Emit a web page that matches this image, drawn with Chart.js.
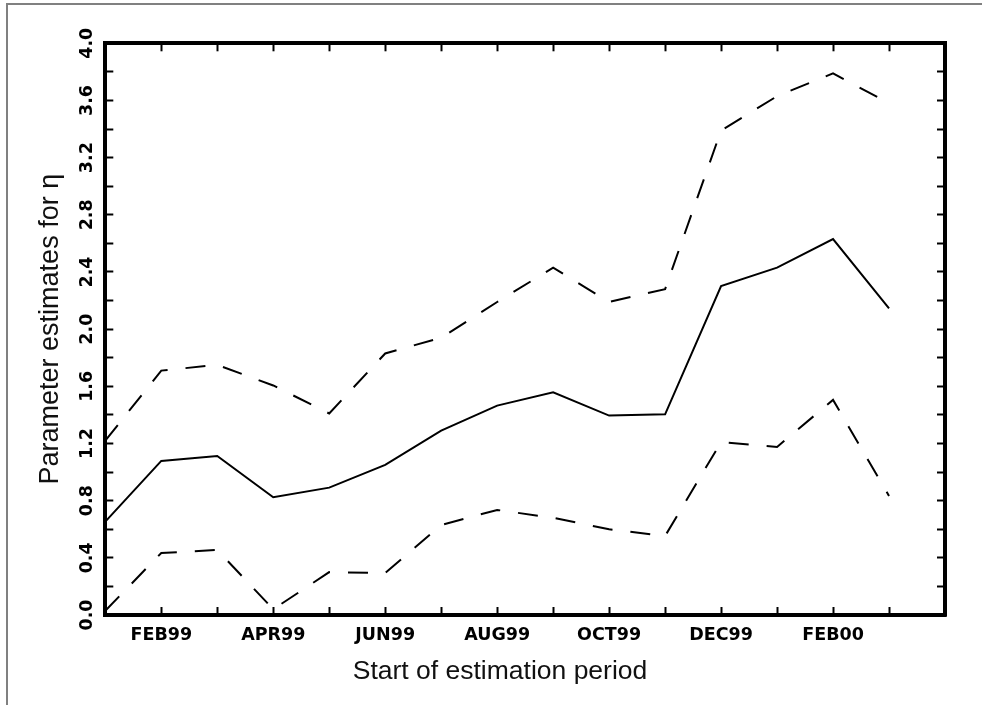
<!DOCTYPE html>
<html>
<head>
<meta charset="utf-8">
<script src="https://cdn.jsdelivr.net/npm/chart.js@4/dist/chart.umd.min.js"></script>
<style>
  html, body { margin: 0; padding: 0; background: #fff; overflow: hidden; }
  .frame { position: absolute; left: 6px; top: 3px; width: 990px; height: 720px;
           border-left: 2px solid #808080; border-top: 2px solid #808080; }
  .wrap { position: absolute; left: 0; top: 0; width: 982px; height: 705px; }
</style>
</head>
<body>
<div class="frame"></div>
<div class="wrap"><canvas id="eta-chart"></canvas></div>
<script>
/* ============================================================
   PARAMETER ESTIMATES FOR ETA — by start of estimation period
   ============================================================ */
const months = ['JAN99','FEB99','MAR99','APR99','MAY99','JUN99','JUL99','AUG99',
                'SEP99','OCT99','NOV99','DEC99','JAN00','FEB00','MAR00','APR00'];
const shownMonths = ['FEB99','APR99','JUN99','AUG99','OCT99','DEC99','FEB00'];
const yTickLabels = ['0.0','0.4','0.8','1.2','1.6','2.0','2.4','2.8','3.2','3.6','4.0'];

const estimate  = [0.653, 1.078, 1.113, 0.824, 0.891, 1.05, 1.29, 1.465, 1.558, 1.395, 1.404, 2.302, 2.43, 2.63, 2.146];
const upperBand = [1.22, 1.71, 1.75, 1.606, 1.41, 1.83, 1.94, 2.19, 2.43, 2.19, 2.28, 3.39, 3.63, 3.79, 3.58];
const lowerBand = [0.03, 0.434, 0.455, 0.04, 0.30, 0.294, 0.63, 0.735, 0.68, 0.60, 0.553, 1.21, 1.176, 1.505, 0.833];

const INK = '#000';
const tickFont = { family: 'DejaVu Sans', size: 17.5, weight: 'bold' };

// inward tick marks + thick frame, no grid inside
const frameGrid = { drawOnChartArea: false, color: INK, tickLength: -8, tickWidth: 2 };
const frameBorder = { color: INK, width: 4 };

const lineStyle = (data, dash) => ({
  data, borderColor: INK, borderWidth: 2, borderDash: dash,
  pointRadius: 0, tension: 0, fill: false
});

new Chart(document.getElementById('eta-chart'), {
  type: 'line',
  data: {
    labels: months,
    datasets: [
      lineStyle(estimate, []),
      lineStyle(upperBand, [20, 18]),
      lineStyle(lowerBand, [20, 18]),
    ]
  },
  options: {
    responsive: true,
    maintainAspectRatio: false,
    animation: false,
    layout: { padding: { left: 18, right: 0, top: 0, bottom: 0 } },
    plugins: {
      legend: { display: false },
      tooltip: { enabled: false },
      title: {
        display: true, position: 'bottom',
        text: 'Start of estimation period',
        color: '#111', font: { family: 'Liberation Sans', size: 26.5, weight: 'normal' },
        padding: { top: 0, bottom: 17 }
      }
    },
    scales: {
      x: {
        type: 'category', position: 'bottom', offset: false,
        grid: frameGrid, border: frameBorder,
        ticks: {
          color: INK, font: tickFont, padding: 17.5, autoSkip: false, maxRotation: 0,
          callback: function (v) {
            const m = this.getLabelForValue(v);
            return shownMonths.includes(m) ? m : '';
          }
        },
        afterFit: s => { s.height = 41.2; }
      },
      x2: {
        type: 'category', labels: months, position: 'top', offset: false,
        grid: frameGrid, border: frameBorder,
        ticks: { display: false, autoSkip: false },
        afterFit: s => { s.height = 43.3; }
      },
      y: {
        position: 'left', min: 0, max: 4,
        grid: frameGrid, border: frameBorder,
        ticks: {
          stepSize: 0.2, autoSkip: false, color: INK, font: tickFont,
          minRotation: 90, maxRotation: 90, crossAlign: 'center', padding: 10,
          callback: (v, i) => (i % 2 === 0 ? yTickLabels[i / 2] : '')
        },
        title: {
          display: true, text: 'Parameter estimates for η',
          color: '#111', font: { family: 'Liberation Sans', size: 27, weight: 'normal' },
          padding: { top: 16, bottom: 0 }
        },
        afterFit: s => { s.width = 87.3; }
      },
      y2: {
        position: 'right', min: 0, max: 4,
        grid: frameGrid, border: frameBorder,
        ticks: { stepSize: 0.2, display: false, autoSkip: false },
        afterFit: s => { s.width = 37; }
      }
    }
  }
});
</script>
</body>
</html>
